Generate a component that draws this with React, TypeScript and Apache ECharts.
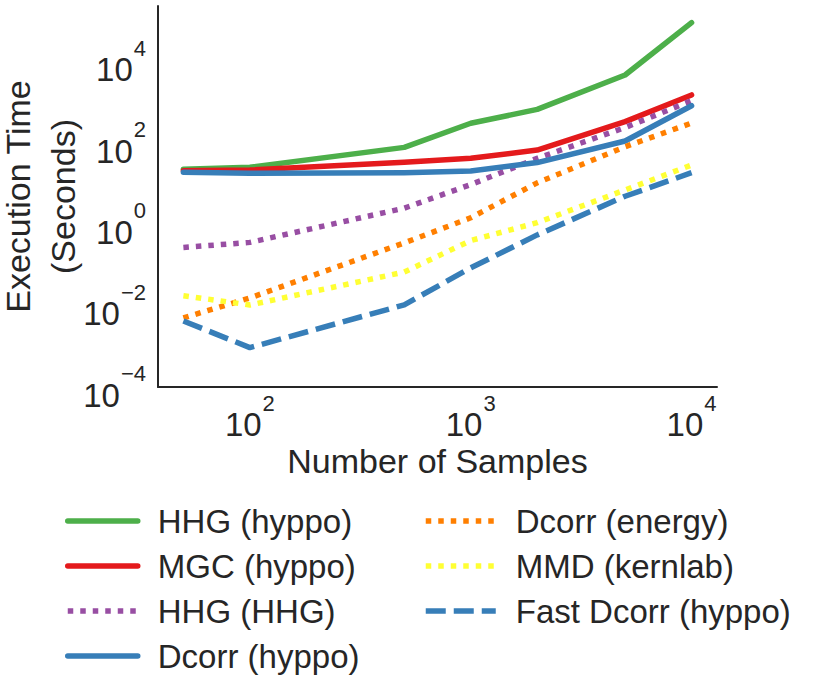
import React, { useEffect, useRef } from "react";
import * as echarts from "echarts";

const sampleSizes = [50, 100, 500, 1000, 2000, 5000, 10000];

const hhgHyppo = [22.6, 25.3, 78, 306, 670, 4700, 91000];
const mgcHyppo = [20.9, 21.7, 33.6, 42, 67, 335, 1520];
const hhgHHG = [0.27, 0.36, 2.5, 9.5, 42, 240, 1100];
const dcorrHyppo = [19.1, 18.0, 18.6, 20.5, 33, 112, 826];
const dcorrEnergy = [0.005, 0.0155, 0.35, 1.45, 10.5, 81, 310];
const mmdKernlab = [0.0176, 0.0104, 0.067, 0.4, 1.1, 7.0, 28.8];
const fastDcorrHyppo = [0.0042, 0.00093, 0.0105, 0.085, 0.55, 4.9, 18.6];

const seriesNames = [
  "HHG (hyppo)",
  "MGC (hyppo)",
  "HHG (HHG)",
  "Dcorr (hyppo)",
  "Dcorr (energy)",
  "MMD (kernlab)",
  "Fast Dcorr (hyppo)",
];
const seriesValues = [hhgHyppo, mgcHyppo, hhgHHG, dcorrHyppo, dcorrEnergy, mmdKernlab, fastDcorrHyppo];
const seriesColors = ["#4daf4a", "#e41a1c", "#984ea3", "#377eb8", "#ff7f00", "#ffff33", "#377eb8"];
const seriesDash = ["solid", "solid", "dotted", "solid", "dotted", "dotted", "dashed"];

const TEXT = "#262626";
const FONT = "'Liberation Sans', Arial, sans-serif";
const LW = 5.5;

function sup(n: number) {
  return n < 0 ? "\u2212" + Math.abs(n) : String(n);
}

function powLabel(v: number, step: number) {
  const e = Math.log10(v);
  const r = Math.round(e);
  if (Math.abs(e - r) > 1e-6) return "";
  if (((r % step) + step) % step !== 0) return "";
  return `{b|10}{s|${sup(r)}}`;
}

const richLabel = {
  b: { fontSize: 33, fontFamily: FONT, color: TEXT, padding: [16, 0, 0, 0], verticalAlign: "bottom" },
  s: { fontSize: 22, fontFamily: FONT, color: TEXT, verticalAlign: "top", padding: [0, 0, 0, 1] },
};

function dashFor(d: string) {
  return d === "solid" ? "solid" : d === "dotted" ? [5.5, 7] : [20, 8];
}

export default function App() {
  const ref = useRef<HTMLDivElement>(null);
  useEffect(() => {
    if (!ref.current) return;
    const chart = echarts.init(ref.current, null, { renderer: "svg" });
    const series = seriesNames.map((name, i) => {
      const dash = seriesDash[i];
      return {
        name,
        type: "line",
        data: sampleSizes.map((x, j) => [x, seriesValues[i][j]]),
        symbol: "none",
        showSymbol: false,
        lineStyle: {
          color: seriesColors[i],
          width: LW,
          type: dashFor(dash),
          cap: dash === "solid" ? "round" : "butt",
          join: "round",
        },
        itemStyle: { color: seriesColors[i] },
        emphasis: { disabled: true },
      };
    });
    const legendBase = {
      orient: "vertical",
      top: 503,
      padding: 0,
      itemWidth: 70,
      itemHeight: 12,
      itemGap: 9,
      selectedMode: false,
      itemStyle: { opacity: 0 },
      lineStyle: { width: LW },
      textStyle: { fontSize: 33, lineHeight: 36, color: TEXT, fontFamily: FONT, padding: [0, 0, 0, 15] },
    };
    chart.setOption({
      animation: false,
      backgroundColor: "#ffffff",
      textStyle: { fontFamily: FONT },
      grid: { left: 158, right: 96, top: 6, bottom: 312, containLabel: false, outerBoundsMode: "none" },
      xAxis: {
        type: "log",
        logBase: 10,
        min: 38.37,
        max: 13035,
        name: "Number of Samples",
        nameLocation: "middle",
        nameGap: 57,
        nameMoveOverlap: false,
        nameTextStyle: { fontSize: 34, color: TEXT, fontFamily: FONT },
        axisLine: { show: true, lineStyle: { color: TEXT, width: 2 } },
        axisTick: { show: false },
        splitLine: { show: false },
        minorTick: { show: false },
        axisLabel: {
          showMinLabel: false,
          showMaxLabel: false,
          margin: 5,
          formatter: (v: number) => powLabel(v, 1),
          rich: richLabel,
        },
      },
      yAxis: {
        type: "log",
        logBase: 10,
        min: 1e-4,
        max: 234000,
        name: "Execution Time\n(Seconds)",
        nameLocation: "middle",
        nameRotate: 90,
        nameGap: 73,
        nameMoveOverlap: false,
        nameTextStyle: { fontSize: 34, lineHeight: 45, color: TEXT, fontFamily: FONT },
        axisLine: { show: true, lineStyle: { color: TEXT, width: 2 } },
        axisTick: { show: false },
        splitLine: { show: false },
        axisLabel: {
          showMaxLabel: false,
          margin: 12,
          formatter: (v: number) => powLabel(v, 2),
          rich: richLabel,
        },
      },
      legend: [
        { ...legendBase, left: 65, data: seriesNames.slice(0, 4) },
        { ...legendBase, left: 423, data: seriesNames.slice(4) },
      ],
      series,
    });
    return () => chart.dispose();
  }, []);
  return (
    <div
      ref={ref}
      style={{ position: "fixed", left: 0, top: 0, width: 813, height: 699, background: "#fff" }}
    />
  );
}
